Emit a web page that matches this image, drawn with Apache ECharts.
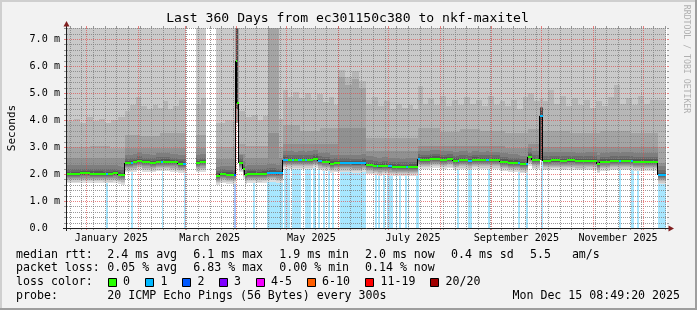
<!DOCTYPE html>
<html><head><meta charset="utf-8">
<script src="https://cdn.jsdelivr.net/npm/echarts@6/dist/echarts.min.js"></script>
<style>html,body{margin:0;padding:0;background:#f2f2f2;}#c{width:697px;height:310px;}</style>
</head><body><div id="c"></div>
<script>
// ================= DATA =================
const titleText = 'Last 360 Days from ec301150c380 to nkf-maxitel';
const endTime = '2025-12-15T08:49:20Z';
const spanDays = 360;
const rowCount = 600;            // RRA rows across the graph (0.6 day each)
const yMaxMs = 7.407;            // top of the value axis (ms)
const yTickMs = [0, 1, 2, 3, 4, 5, 6, 7];
const xLabelMonthStarts = ['2025-01-01', '2025-03-01', '2025-05-01', '2025-07-01', '2025-09-01', '2025-11-01'];
const xLabelTexts = ['January 2025', 'March 2025', 'May 2025', 'July 2025', 'September 2025', 'November 2025'];

// median rtt: [rowStart, rowEnd, ms, lost pings]
const medianRuns = [
  [0,13,2.00,0],[13,23,2.02,0],[23,36,2.01,0],[36,39,2.00,0],[39,41,2.00,1],[41,46,2.00,0],[46,51,2.02,0],[51,54,1.98,0],[54,58,1.95,0],
  [58,64,2.40,0],[64,66,2.40,1],[66,70,2.43,0],[70,75,2.49,0],[75,83,2.43,0],[83,89,2.40,0],[89,94,2.44,0],[94,96,2.46,1],[96,103,2.45,0],[103,111,2.43,0],[111,116,2.38,0],[116,119,2.37,1],
  [129,133,2.40,0],[133,139,2.43,0],
  [149,153,1.93,0],[153,159,1.99,0],[159,167,1.98,0],[167,168.5,1.98,2],
  [168.5,170,6.18,0],[170,171.5,4.64,0],
  [171.5,175.5,2.40,0],[175.5,177.5,2.17,0],
  [177.5,180,1.96,0],[180,189,2.01,0],[189,195,2.00,0],[195,200,2.01,0],[200,209,2.05,1],[209,216,2.02,1],
  [216,221,2.53,1],[221,225,2.52,0],[225,227,2.52,1],[227,231,2.51,0],[231,235,2.52,1],[235,238,2.52,0],[238,240,2.51,1],[240,246,2.52,0],[246,251,2.56,0],[251,255,2.47,1],[255,263,2.46,0],[263,267,2.38,0],[267,273,2.40,0],
  [273,285,2.40,1],[285,295,2.39,1],[295,299,2.41,1],
  [299,306,2.33,0],[306,310,2.31,0],[310,311,2.29,1],[311,315,2.28,0],[315,321,2.30,0],[321,325,2.28,1],[325,333,2.27,0],[333,339,2.25,0],[339,341,2.26,1],[341,351,2.27,0],
  [351,353,2.55,1],[353,363,2.53,0],[363,373,2.56,0],[373,380,2.53,0],[380,386,2.55,0],[386,391,2.49,0],[391,392,2.49,1],[392,401,2.52,0],[401,405,2.47,1],[405,412,2.53,0],[412,419,2.51,0],[419,422,2.52,1],[422,433,2.51,0],[433,441,2.45,0],
  [441,451,2.41,0],[451,453,2.40,1],[453,459,2.36,0],[459,461,2.36,1],
  [461,465,2.64,0],[465,473,2.52,0],
  [473,475.5,4.16,1],
  [475.5,484,2.48,0],[484,493,2.50,0],[493,500,2.48,0],[500,508,2.50,0],[508,519,2.47,0],[519,530,2.48,0],[530,533,2.37,0],[533,543,2.46,0],[543,552,2.48,0],[552,554,2.47,1],[554,564,2.48,0],[564,566,2.48,1],[566,578,2.46,0],[578,591,2.45,0],
  [591,599,1.96,1]
];

// ping 18 (upper edge of 3rd smoke band): [rowStart, rowEnd, ms]
const band3Top = [
  [0,7,3.95],[7,13,4.05],[13,19,3.9],[19,26,4.1],[26,32,3.95],[32,38,4.05],[38,44,3.9],[44,51,4.0],[51,58,4.1],
  [58,63,4.35],[63,69,4.55],[69,74,4.85],[74,80,4.5],[80,86,4.4],[86,91,4.55],[91,96,4.45],[96,101,4.7],[101,106,4.4],[106,112,4.5],[112,119,4.75],
  [129,134,4.6],[134,139,4.8],
  [149,158,3.9],[158,168.5,4.0],[168.5,171.5,8.0],[171.5,177.5,4.35],
  [177.5,185,4.1],[185,191,4.2],[191,196,4.0],[196,201,4.15],[201,212,8.0],[212,216,4.05],
  [216,221,5.1],[221,226,4.85],[226,232,5.05],[232,238,4.8],[238,244,5.0],[244,250,4.75],[250,256,4.95],[256,262,4.65],[262,267,4.85],[267,271,4.55],
  [271,278,5.85],[278,285,5.6],[285,292,5.8],[292,299,5.45],
  [299,305,4.6],[305,311,4.85],[311,317,4.5],[317,323,4.7],[323,329,4.4],[329,335,4.6],[335,341,4.45],[341,346,4.55],[346,351,4.4],
  [351,356,5.25],[356,361,4.6],[361,367,4.8],[367,373,4.55],[373,379,4.9],[379,385,4.5],[385,391,4.75],[391,397,4.55],[397,403,4.85],[403,409,4.6],[409,415,4.75],[415,421,4.5],[421,427,4.9],[427,433,4.55],[433,438,4.7],
  [438,444,4.5],[444,450,4.75],[450,456,4.4],[456,461,4.85],
  [461,467,5.0],[467,473,4.7],[473,475.5,4.8],
  [475.5,481,4.7],[481,487,5.1],[487,493,4.6],[493,499,4.9],[499,505,4.5],[505,511,4.8],[511,517,4.55],[517,523,4.75],[523,529,4.45],[529,535,4.7],[535,541,4.5],[541,547,4.85],[547,553,5.3],[553,559,4.6],[559,565,4.8],[565,571,4.55],[571,577,4.9],[577,583,4.6],[583,591,4.75],
  [591,599,4.74]
];
// ping 17 (upper edge of 4th smoke band)
const band4Top = [
  [0,23,3.0],[23,43,3.05],[43,58,2.98],
  [58,73,3.45],[73,93,3.4],[93,119,3.5],
  [129,139,3.45],
  [149,168.5,3.0],[168.5,171.5,8.0],[171.5,177.5,3.1],
  [177.5,201,3.05],[201,212,8.0],[212,216,3.0],
  [216,233,3.8],[233,253,3.6],[253,271,3.7],
  [271,278,5.6],[278,285,5.3],[285,292,5.5],[292,299,5.2],
  [299,351,3.35],
  [351,373,3.7],[373,393,3.55],[393,413,3.65],[413,438,3.6],
  [438,461,3.5],[461,473,3.65],[473,475.5,4.45],
  [475.5,503,3.6],[503,533,3.5],[533,563,3.6],[563,591,3.5],
  [591,599,3.0]
];
// ping 16 (upper edge of 5th smoke band)
const band5Top = [
  [0,58,2.6],[58,119,2.97],[129,139,2.95],
  [149,168.5,2.55],[168.5,171.5,8.0],[171.5,177.5,2.75],
  [177.5,201,2.6],[201,212,3.5],[212,216,2.6],
  [216,271,3.1],[271,299,3.7],[299,351,2.85],[351,438,3.05],
  [438,461,2.95],[461,473,3.1],[473,475.5,4.45],[475.5,591,3.0],[591,599,2.4]
];
const outerPingMs = 8.0;                                        // pings 19/20 lie above the chart top
const smokeBelow = [0.34, 0.28, 0.23, 0.19, 0.15, 0.11, 0.07, 0.04]; // band lower edge below median (ms)
const smokeAboveInner = [0.32, 0.18, 0.09];                     // bands 6..8 upper edge above median (ms)
const spikeOuter = [[168.3, 171.8, 3.9, 8.0]];
const spikeCore = [[169.0, 171.3, 4.4, 8.0], [473, 475.5, 2.5, 4.45]];

// packet loss background bars: [rowStart, rowEnd, lost pings]
const lossBars = [
  [39,40.5,1],[64,66,1],[95,96,1],[117,119,1],[167,168.5,2],[186,188,1],
  [200,216,1],[217,223,1],[225,234,1],[238,244,1],[246,249,1],[251,253,1],[256,258,1],[261,263,1],[265,267,1],
  [273,299,1],[308,310,1],[311,312.5,1],[316,318,1],[320,326,1],[329,330,1],[332,334,1],[338,340,1],[341,342,1],[349,352,1],
  [390,392,1],[401,405,1],[421,422.5,1],[451,452.5,1],[459,460.5,1],[474,476,1],
  [552,554,1],[564,566.5,1],[570,572,1],[591,599,1]
];

const rttStats = ['2.4 ms avg', '6.1 ms max', '1.9 ms min', '2.0 ms now', '0.4 ms sd', '5.5   am/s'];
const lossStats = ['0.05 % avg', '6.83 % max', '0.00 % min', '0.14 % now'];
const lossLegend = ['0', '1', '2', '3', '4-5', '6-10', '11-19', '20/20'];
const probeText = '20 ICMP Echo Pings (56 Bytes) every 300s';
const stampText = 'Mon Dec 15 08:49:20 2025';

// ================= STYLE / BUILD =================
const lossColors = ['#26ff00', '#00b8ff', '#0059ff', '#7e00ff', '#f500ff', '#ff5e00', '#ff0000', '#a10000'];
const smokeColors = ['#dddddd', '#cacaca', '#b7b7b7', '#a4a4a4', '#919191', '#7e7e7e', '#6b6b6b', '#585858'];
const MONO = '"DejaVu Sans Mono", monospace';
const DAY = 86400000;
const END = Date.parse(endTime);
const START = END - spanDays * DAY;
const ROWMS = spanDays * DAY / rowCount;
const rowOf = t => (t - START) / ROWMS;

function bucket(n) { if (n <= 0) return 0; if (n <= 3) return n; if (n <= 5) return 4; if (n <= 10) return 5; if (n <= 19) return 6; return 7; }
function light(hex, a) { const v = parseInt(hex.slice(1), 16); return 'rgba(' + (v >> 16) + ',' + ((v >> 8) & 255) + ',' + (v & 255) + ',' + a + ')'; }
function findRun(runs, x) { for (const r of runs) if (x >= r[0] && x < r[1]) return r; return null; }

function bandRects(k) {
  const out = [];
  const topRuns = k === 2 ? band3Top : k === 3 ? band4Top : k === 4 ? band5Top : null;
  medianRuns.forEach(([a, b, m]) => {
    const lo = m - smokeBelow[k];
    if (!topRuns) { out.push([a, b, lo, k < 2 ? outerPingMs : m + smokeAboveInner[k - 5]]); return; }
    const cuts = [a, b];
    topRuns.forEach(t => [t[0], t[1]].forEach(c => { if (c > a && c < b) cuts.push(c); }));
    cuts.sort((p, q) => p - q);
    for (let i = 0; i < cuts.length - 1; i++) {
      const t = findRun(topRuns, (cuts[i] + cuts[i + 1]) / 2);
      if (t) out.push([cuts[i], cuts[i + 1], lo, Math.max(t[2], lo)]);
    }
  });
  return out;
}
const verticals = [];
for (let i = 1; i < medianRuns.length; i++) {
  if (medianRuns[i][0] === medianRuns[i - 1][1]) verticals.push([medianRuns[i][0], medianRuns[i - 1][2], medianRuns[i][2]]);
}

function clampY(y, cs) { return Math.min(Math.max(y, cs.y), cs.y + cs.height); }
function rectRender(color) {
  return function (params, api) {
    const cs = params.coordSys;
    const x0 = Math.round(api.coord([api.value(0), 0])[0]);
    const x1 = Math.round(api.coord([api.value(1), 0])[0]);
    const yT = Math.round(clampY(api.coord([0, api.value(3)])[1], cs));
    const yB = Math.round(clampY(api.coord([0, api.value(2)])[1], cs));
    if (x1 <= x0 || yB <= yT) return null;
    return { type: 'rect', shape: { x: x0, y: yT, width: x1 - x0, height: yB - yT }, style: { fill: color } };
  };
}

const series = [];
series.push({
  type: 'custom', z: 1,
  data: lossBars, encode: { x: [0, 1], y: 2 },
  renderItem: function (params, api) {
    const cs = params.coordSys;
    const x0 = Math.round(api.coord([api.value(0), 0])[0]);
    const x1 = Math.round(api.coord([api.value(1), 0])[0]);
    return { type: 'rect', shape: { x: x0, y: cs.y, width: Math.max(1, x1 - x0), height: cs.height },
      style: { fill: light(lossColors[bucket(api.value(2))], 0.34) } };
  }
});
smokeColors.forEach((c, k) => {
  series.push({ type: 'custom', z: 2,
    data: bandRects(k), encode: { x: [0, 1], y: [2, 3] }, renderItem: rectRender(c) });
});
series.push({ type: 'custom', z: 2,
  data: spikeOuter, encode: { x: [0, 1], y: [2, 3] }, renderItem: rectRender('#a0a0a0') });
series.push({ type: 'custom', z: 2,
  data: spikeCore, encode: { x: [0, 1], y: [2, 3] }, renderItem: rectRender('#4a4a4a') });
series.push({ type: 'custom', z: 5,
  data: verticals, encode: { x: 0, y: [1, 2] },
  renderItem: function (params, api) {
    const x = Math.round(api.coord([api.value(0), 0])[0]) - 0.5;
    const y1 = Math.round(api.coord([0, api.value(1)])[1]);
    const y2 = Math.round(api.coord([0, api.value(2)])[1]);
    return { type: 'line', shape: { x1: x, y1: y1, x2: x, y2: y2 }, style: { stroke: '#000', lineWidth: 1 } };
  }
});
series.push({ type: 'custom', z: 6,
  data: medianRuns, encode: { x: [0, 1], y: 2 },
  renderItem: function (params, api) {
    const x0 = Math.round(api.coord([api.value(0), 0])[0]);
    const x1 = Math.round(api.coord([api.value(1), 0])[0]);
    const y = Math.round(api.coord([0, api.value(2)])[1]);
    return { type: 'rect', shape: { x: x0, y: y - 1, width: Math.max(1, x1 - x0), height: 2 },
      style: { fill: lossColors[bucket(api.value(3))] } };
  }
});

const labelRows = xLabelMonthStarts.map(d => rowOf(Date.parse(d + 'T00:00:00Z') + 15 * DAY));
const option = {
  animation: false,
  backgroundColor: '#f2f2f2',
  grid: { left: 67, top: 28, width: 600, height: 200, show: true, backgroundColor: '#ffffff', borderWidth: 0, containLabel: false, outerBoundsMode: 'none' },
  xAxis: { type: 'value', min: 0, max: rowCount, axisLine: { show: false }, axisTick: { show: false }, splitLine: { show: false },
    axisLabel: { customValues: labelRows, margin: 5, fontFamily: MONO, fontSize: 10.15, color: '#000',
      formatter: v => { let i = 0, best = 1e9; labelRows.forEach((r, j) => { if (Math.abs(r - v) < best) { best = Math.abs(r - v); i = j; } }); return xLabelTexts[i]; } } },
  yAxis: { type: 'value', min: 0, max: yMaxMs, axisLine: { show: false }, axisTick: { show: false }, splitLine: { show: false },
    axisLabel: { customValues: yTickMs, margin: 7, fontFamily: MONO, fontSize: 10.15, color: '#000',
      formatter: v => v === 0 ? '0.0  ' : v.toFixed(1) + ' m' } },
  series: series
};

const chart = echarts.init(document.getElementById('c'), null, { renderer: 'canvas', width: 697, height: 310 });
chart.setOption(option);

// ---------- grid lines, placed through the chart's own scales ----------
const weekRows = [], monthRows = [], yMinor = [];
for (let t = Date.UTC(2024, 11, 22); t < END; t += 7 * DAY) { const r = rowOf(t); if (r > 0 && r < rowCount) weekRows.push(r); }
for (let m = 0; m < 12; m++) { const r = rowOf(Date.UTC(2025, m, 1)); if (r > 0 && r < rowCount) monthRows.push(r); }
for (let i = 1; i * 0.2 <= yMaxMs; i++) if (i % 5) yMinor.push(Math.round(i * 2) / 10);
const yMajor = yTickMs.filter(v => v > 0);

const GRIDC = 'rgba(128,128,128,0.8)';
const MGRIDC = 'rgba(222,79,79,0.7)';
const px = r => chart.convertToPixel({ xAxisIndex: 0 }, r);
const py = v => chart.convertToPixel({ yAxisIndex: 0 }, v);
const L = Math.round(px(0)), R = Math.round(px(rowCount)), T = Math.round(py(yMaxMs)), B = Math.round(py(0));
const G = [];
function vline(r, color, z) {
  const x = Math.round(px(r)) + 0.5;
  G.push({ type: 'line', z: z, shape: { x1: x, y1: T, x2: x, y2: B }, style: { stroke: color, lineWidth: 1, lineDash: [1, 1] } });
  G.push({ type: 'line', z: z, shape: { x1: x, y1: B, x2: x, y2: B + 2 }, style: { stroke: color, lineWidth: 1 } });
  G.push({ type: 'line', z: z, shape: { x1: x, y1: T - 2, x2: x, y2: T }, style: { stroke: color, lineWidth: 1 } });
}
function hline(v, color, z) {
  const y = Math.round(py(v)) + 0.5;
  G.push({ type: 'line', z: z, shape: { x1: L, y1: y, x2: R, y2: y }, style: { stroke: color, lineWidth: 1, lineDash: [1, 1] } });
  G.push({ type: 'line', z: z, shape: { x1: L - 3, y1: y, x2: L, y2: y }, style: { stroke: color, lineWidth: 1 } });
  G.push({ type: 'line', z: z, shape: { x1: R, y1: y, x2: R + 2, y2: y }, style: { stroke: color, lineWidth: 1 } });
}
weekRows.forEach(r => vline(r, GRIDC, 3));
yMinor.forEach(v => hline(v, GRIDC, 3));
monthRows.forEach(r => vline(r, MGRIDC, 4));
yMajor.forEach(v => hline(v, MGRIDC, 4));

const txt = (text, x, y, size, extra) => G.push(Object.assign({ type: 'text', z: 100, x: x, y: y,
  style: Object.assign({ text: text, font: size + 'px ' + MONO, fill: '#000', align: 'left', verticalAlign: 'middle' }, extra || {}) }));
// frame
G.push({ type: 'rect', z: 100, shape: { x: 0, y: 0, width: 697, height: 2 }, style: { fill: '#cfcfcf' } });
G.push({ type: 'rect', z: 100, shape: { x: 0, y: 0, width: 2, height: 310 }, style: { fill: '#cfcfcf' } });
G.push({ type: 'rect', z: 100, shape: { x: 0, y: 308, width: 697, height: 2 }, style: { fill: '#9e9e9e' } });
G.push({ type: 'rect', z: 100, shape: { x: 695, y: 0, width: 2, height: 310 }, style: { fill: '#9e9e9e' } });
// axes & arrows
G.push({ type: 'line', z: 100, shape: { x1: L - 4, y1: B + 0.5, x2: R + 3, y2: B + 0.5 }, style: { stroke: '#1f1f1f', lineWidth: 1 } });
G.push({ type: 'line', z: 100, shape: { x1: L - 0.5, y1: B + 3, x2: L - 0.5, y2: T - 3 }, style: { stroke: '#1f1f1f', lineWidth: 1 } });
G.push({ type: 'polygon', z: 100, shape: { points: [[R + 1.5, B - 2.5], [R + 1.5, B + 3.5], [R + 7, B + 0.5]] }, style: { fill: '#801f1f' } });
G.push({ type: 'polygon', z: 100, shape: { points: [[L - 3.5, T - 1.5], [L + 2.5, T - 1.5], [L - 0.5, T - 7]] }, style: { fill: '#801f1f' } });
// title, unit, watermark
txt(titleText, 347.5, 19, 13.1, { align: 'center' });
G.push({ type: 'text', z: 100, x: 11.7, y: 128, rotation: Math.PI / 2,
  style: { text: 'Seconds', font: '11px ' + MONO, fill: '#000', align: 'center', verticalAlign: 'middle' } });
G.push({ type: 'text', z: 100, x: 686, y: 59, rotation: -Math.PI / 2,
  style: { text: 'RRDTOOL / TOBI OETIKER', font: '8.2px ' + MONO, fill: '#b0b0b0', align: 'center', verticalAlign: 'middle' } });
// legend
const colX = [107.3, 193.3, 279.3, 365, 451, 530];
const rowY = [254.5, 268.3, 282.2, 296];
txt('median rtt:', 16, rowY[0], 11.6);
rttStats.forEach((s, i) => txt(s, colX[i], rowY[0], 11.6));
txt('packet loss:', 16, rowY[1], 11.6);
lossStats.forEach((s, i) => txt(s, colX[i], rowY[1], 11.6));
txt('loss color:', 16, rowY[2], 11.6);
const boxX = [108, 145.5, 182.5, 219, 256, 307, 365.5, 430.5];
lossLegend.forEach((s, i) => {
  G.push({ type: 'rect', z: 100, shape: { x: Math.floor(boxX[i]) + 0.5, y: 278.5, width: 8, height: 8 },
    style: { fill: lossColors[i], stroke: '#000', lineWidth: 1 } });
  txt(s, boxX[i] + 15, rowY[2], 11.6);
});
txt('probe:', 16, rowY[3], 11.6);
txt(probeText, 107.3, rowY[3], 11.6);
txt(stampText, 680, rowY[3], 11.6, { align: 'right' });

chart.setOption({ graphic: { elements: G } });
</script>
</body></html>
